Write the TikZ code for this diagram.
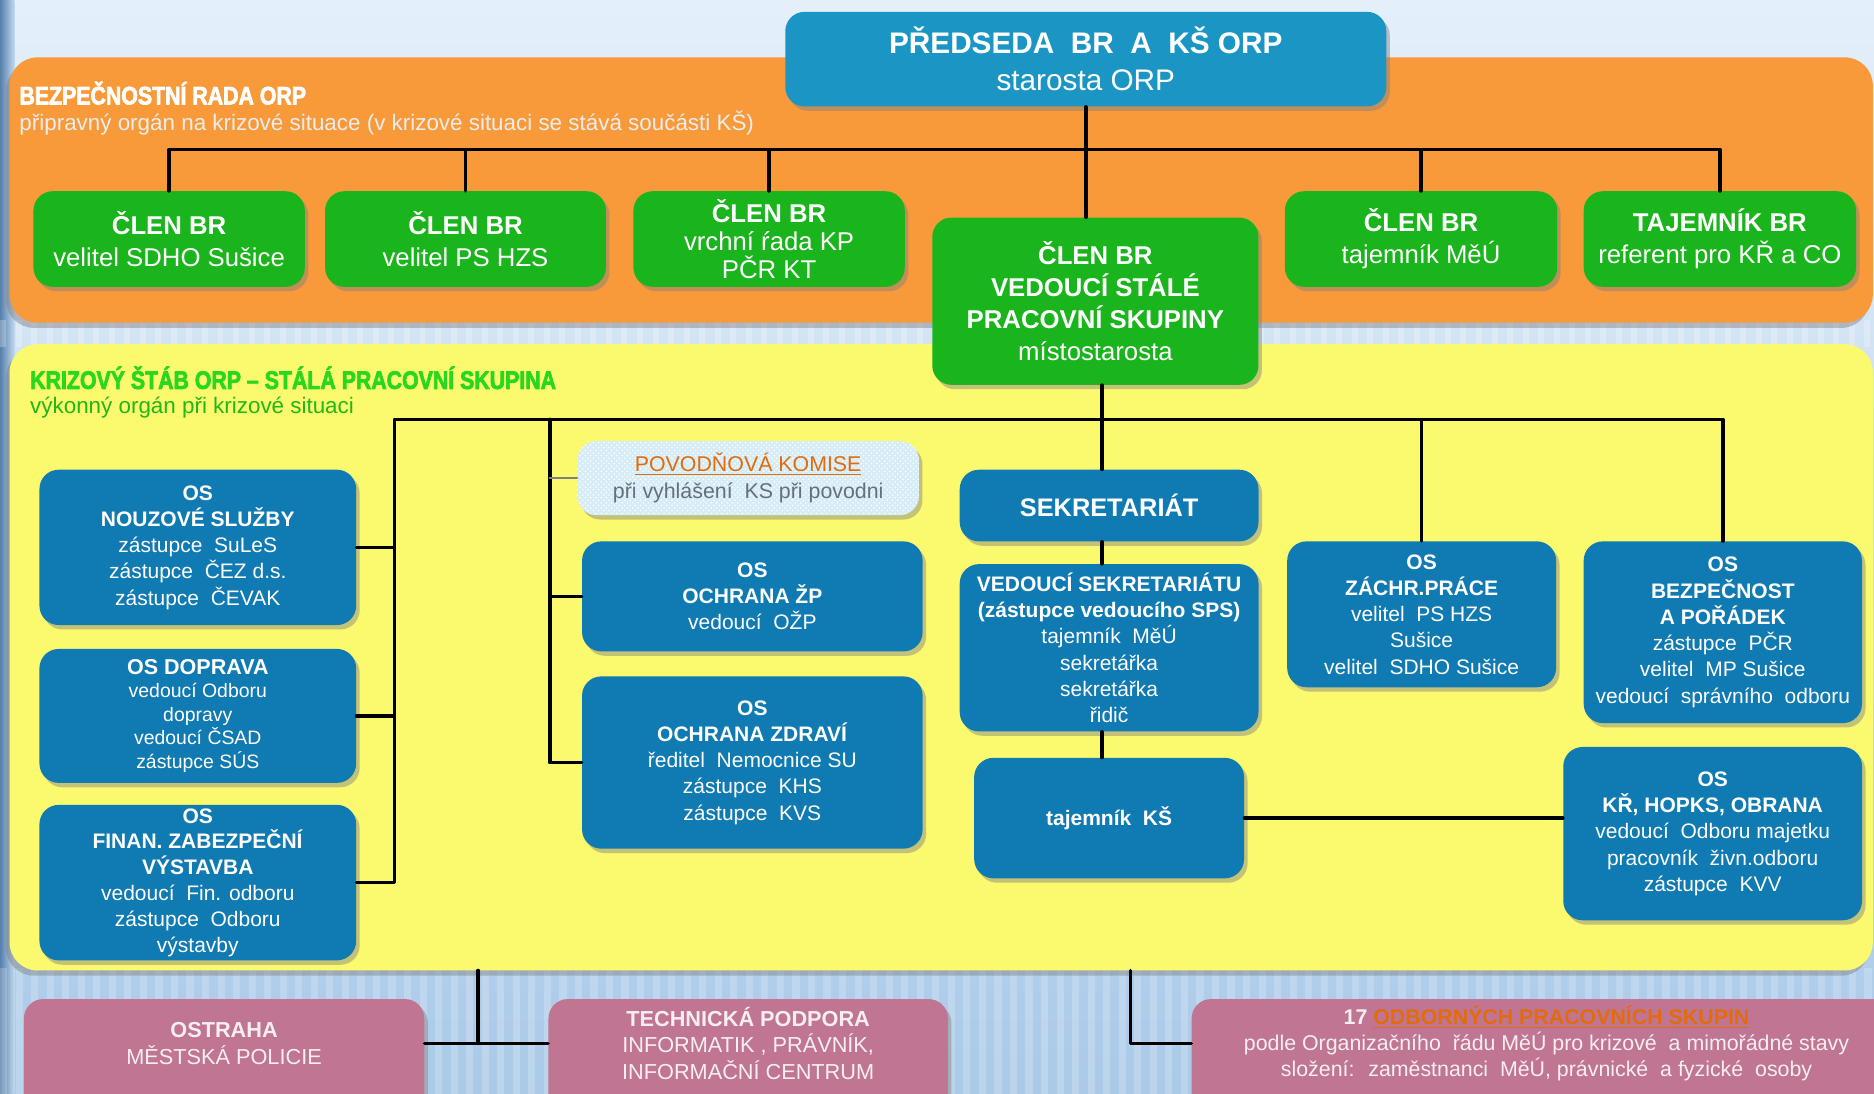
\documentclass[tikz,border=0pt]{standalone}
\usepackage{fontspec}
\setmainfont{Liberation Sans}
\newfontfamily\headfont[FakeStretch=0.84,FakeBold=2.6]{Liberation Sans}
\usetikzlibrary{patterns,shadows}
\definecolor{bgtop}{RGB}{228,239,250}
\definecolor{bgbot}{RGB}{170,202,232}
\definecolor{bgedge}{RGB}{88,128,172}
\definecolor{brorange}{RGB}{248,154,58}
\definecolor{ksyellow}{RGB}{251,249,110}
\definecolor{brgreen}{RGB}{26,180,28}
\definecolor{ksgreen}{RGB}{40,215,30}
\definecolor{predblue}{RGB}{27,150,196}
\definecolor{osblue}{RGB}{16,122,178}
\definecolor{podpink}{RGB}{192,117,146}
\definecolor{komorange}{RGB}{226,108,12}
\definecolor{povfill}{RGB}{214,236,246}
\definecolor{povgrey}{RGB}{100,112,125}

\begin{document}
\begin{tikzpicture}[line cap=round,line join=round,x=0.024cm,y=-0.024cm,
  box/.style={rounded corners=11pt,align=center,text=white,inner sep=2pt,
    drop shadow={shadow xshift=2pt,shadow yshift=-2.5pt,opacity=.45}},
  panel/.style={rounded corners=16pt,
    drop shadow={shadow xshift=-2pt,shadow yshift=-3pt,opacity=.45}},
  predbox/.style={box,fill=predblue,font=\fontsize{17}{21}\selectfont},
  greenbox/.style={box,fill=brgreen,font=\fontsize{14.7}{18.4}\selectfont},
  bluebox/.style={box,fill=osblue,font=\fontsize{12}{15}\selectfont},
  povbox/.style={box,preaction={fill=povfill},pattern=crosshatch dots,
    pattern color=white,font=\fontsize{12.2}{15.5}\selectfont},
  pinkbox/.style={box,fill=podpink},
  pinktxt/.style={align=center,inner sep=0pt,text={rgb,255:red,246;green,238;blue,242},
    font=\fontsize{12.4}{15.2}\selectfont},
  headtxt/.style={inner sep=0pt,anchor=west,font=\headfont\bfseries\fontsize{14.5}{16}\selectfont},
  subtxt/.style={inner sep=0pt,anchor=west,font=\fontsize{12.8}{15}\selectfont},
  conn/.style={line width=2pt,black},
  povconn/.style={line width=1.6pt,gray}]
\useasboundingbox (0,0) rectangle (1568,915);
\shade[top color=bgtop,bottom color=bgbot] (0,0) rectangle (1568,915);
\clip (0,0) rectangle (1568,915);
\shade[left color=bgedge,right color=bgbot!60!bgtop] (0,0) rectangle (12,915);
\foreach \x in {0,13,...,1568} {
  \fill[white,opacity=.25] (\x,268) rectangle ++(5,22);
  \fill[white,opacity=.2] (\x,810) rectangle ++(6,105);
}
\fill[brorange,panel] (8,48) rectangle (1567,270);
\fill[ksyellow,panel] (8,288) rectangle (1567,812);

\node[headtxt,text=white] (brtitle) at (16,78) {BEZPEČNOSTNÍ RADA ORP};
\node[subtxt,text=white!93!black] (brsub) at (16,103) {připravný orgán na krizové situace (v krizové situaci se stává součásti KŠ)};
\node[headtxt,text=ksgreen] (kstitle) at (25,316) {KRIZOVÝ ŠTÁB ORP – STÁLÁ PRACOVNÍ SKUPINA};
\node[subtxt,text=ksgreen!85!black] (kssub) at (25,341) {výkonný orgán při krizové situaci};

\node[predbox,minimum width=12.07cm,minimum height=1.9cm] (pred) at (908.5,49.5) {\textbf{PŘEDSEDA\ \ BR\ \ A\ \ KŠ ORP}\\starosta ORP};

\node[greenbox,minimum width=5.45cm,minimum height=1.92cm] (cl1) at (141.5,200) {\textbf{ČLEN BR}\\velitel SDHO Sušice};
\node[greenbox,minimum width=5.64cm,minimum height=1.92cm] (cl2) at (389.5,200) {\textbf{ČLEN BR}\\velitel PS HZS};
\node[greenbox,minimum width=5.45cm,minimum height=1.92cm,font=\fontsize{14.7}{16}\selectfont] (cl3) at (643.5,200) {\textbf{ČLEN BR}\\vrchní ŕada KP\\PČR KT};
\node[greenbox,minimum width=5.47cm,minimum height=1.92cm] (cl5) at (1189,200) {\textbf{ČLEN BR}\\tajemník MěÚ};
\node[greenbox,minimum width=5.47cm,minimum height=1.92cm] (tbr) at (1439,200) {\textbf{TAJEMNÍK BR}\\referent pro KŘ a CO};
\node[greenbox,minimum width=6.55cm,minimum height=3.36cm] (vsps) at (916.5,252) {\textbf{ČLEN BR}\\\textbf{VEDOUCÍ STÁLÉ}\\\textbf{PRACOVNÍ SKUPINY}\\místostarosta};

\node[bluebox,minimum width=6.36cm,minimum height=3.12cm] (nouz) at (165.5,458) {\textbf{OS}\\\textbf{NOUZOVÉ SLUŽBY}\\zástupce~ SuLeS\\zástupce~ ČEZ d.s.\\zástupce~ ČEVAK};
\node[bluebox,minimum width=6.36cm,minimum height=2.69cm,font=\fontsize{11.1}{13.4}\selectfont] (dop) at (165.5,599) {{\fontsize{12.3}{14}\selectfont\textbf{OS DOPRAVA}}\\vedoucí Odboru\\dopravy\\vedoucí ČSAD\\zástupce SÚS};
\node[bluebox,minimum width=6.36cm,minimum height=3.1cm,font=\fontsize{12}{14.8}\selectfont] (fin) at (165.5,738.5) {\textbf{OS}\\\textbf{FINAN. ZABEZPEČNÍ}\\\textbf{VÝSTAVBA}\\vedoucí~ Fin. odboru\\zástupce~ Odboru\\výstavby};

\node[povbox,minimum width=6.86cm,minimum height=1.49cm] (pov) at (626,400) {\textcolor{komorange}{\underline{POVODŇOVÁ KOMISE}}\\\textcolor{povgrey}{při vyhlášení~ KS při povodni}};
\node[bluebox,minimum width=6.84cm,minimum height=2.21cm] (zp) at (629.5,499) {\textbf{OS}\\\textbf{OCHRANA ŽP}\\vedoucí~ OŽP};
\node[bluebox,minimum width=6.84cm,minimum height=3.46cm] (zdr) at (629.5,638) {\textbf{OS}\\\textbf{OCHRANA ZDRAVÍ}\\ředitel~ Nemocnice SU\\zástupce~ KHS\\zástupce~ KVS};

\node[bluebox,minimum width=6cm,minimum height=1.44cm,font=\fontsize{14.5}{16}\selectfont] (sekr) at (928,423) {\textbf{SEKRETARIÁT}};
\node[bluebox,minimum width=6cm,minimum height=3.36cm] (vsek) at (928,542) {\textbf{VEDOUCÍ SEKRETARIÁTU}\\\textbf{(zástupce vedoucího SPS)}\\tajemník~ MěÚ\\sekretářka\\sekretářka\\řidič};
\node[bluebox,minimum width=5.42cm,minimum height=2.42cm] (tks) at (928,684.5) {\textbf{tajemník~ KŠ}};

\node[bluebox,minimum width=5.4cm,minimum height=2.93cm] (zach) at (1189.5,514) {\textbf{OS}\\\textbf{ZÁCHR.PRÁCE}\\velitel~ PS HZS\\Sušice\\velitel~ SDHO Sušice};
\node[bluebox,minimum width=5.59cm,minimum height=3.65cm] (bezp) at (1441.5,529) {\textbf{OS}\\\textbf{BEZPEČNOST}\\\textbf{A POŘÁDEK}\\zástupce~ PČR\\velitel~ MP Sušice\\vedoucí~ správního~ odboru};
\node[bluebox,minimum width=6cm,minimum height=3.48cm] (kr) at (1433,697.5) {\textbf{OS}\\\textbf{KŘ, HOPKS, OBRANA}\\vedoucí~ Odboru majetku\\pracovník~ živn.odboru\\zástupce~ KVV};

\node[pinkbox,minimum width=8.04cm,minimum height=2.5cm] (ostr) at (187.5,888) {};
\node[pinkbox,minimum width=8.02cm,minimum height=2.5cm] (tech) at (626,888) {};
\node[pinkbox,minimum width=14.47cm,minimum height=2.5cm] (odb) at (1298.5,888) {};
\node[pinktxt] (ostrt) at (187.5,873) {\textbf{OSTRAHA}\\MĚSTSKÁ POLICIE};
\node[pinktxt] (techt) at (626,873) {\textbf{TECHNICKÁ PODPORA}\\INFORMATIK , PRÁVNÍK,\\INFORMAČNÍ CENTRUM};
\node[pinktxt,font=\fontsize{12.2}{15}\selectfont] (odbt) at (1294,873) {\textbf{17 \textcolor{komorange}{\underline{ODBORNÝCH PRACOVNÍCH SKUPIN}}}\\podle Organizačního~ řádu MěÚ pro krizové~ a mimořádné stavy\\složení:~ zaměstnanci~ MěÚ, právnické~ a fyzické~ osoby};

\coordinate (brbus) at (908.5,125);
\draw[conn] (pred.south) -- (pred.south |- vsps.north);
\foreach \n in {cl1,cl2,cl3,cl5,tbr}
\draw[conn] (\n.north) |- (brbus);

\coordinate (ksbus) at (922,351);
\coordinate (colL) at (330,351);
\coordinate (colM) at (460,351);
\draw[conn] (vsps.south -| ksbus) -- (ksbus |- sekr.north);
\draw[conn] (sekr.south -| ksbus) -- (vsek.north -| ksbus);
\draw[conn] (vsek.south -| ksbus) -- (tks.north -| ksbus);
\draw[conn] (ksbus) -- (colL) |- (fin.east);
\foreach \n in {nouz,dop}
\draw[conn] (\n.east) -| (colL);
\draw[conn] (colM) |- (zdr.west);
\draw[conn] (zp.west) -| (colM);
\draw[povconn] (pov.west) -- (pov.west -| colM);
\draw[conn] (ksbus) -| (bezp.north);
\draw[conn] (zach.north) |- (ksbus);
\draw[conn] (tks.east) -- (tks.east -| kr.west);

\coordinate (ksbotA) at (400,812);
\coordinate (ksbotB) at (946,812);
\draw[conn] (ksbotA) -- (ksbotA |- ostrt);
\draw[conn] (ostr.east |- ostrt) -- (tech.west |- ostrt);
\draw[conn] (ksbotB) |- (odb.west |- odbt);
\end{tikzpicture}
\end{document}
